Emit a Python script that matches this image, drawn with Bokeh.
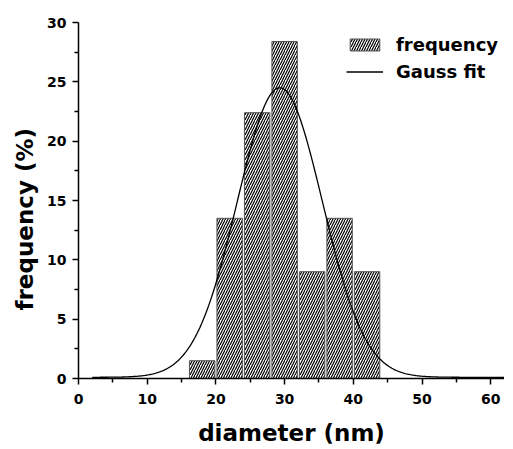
import numpy as np
from bokeh.plotting import figure
from bokeh.models import Range1d, Legend, LegendItem, FixedTicker, Title
from bokeh.embed import file_html
from bokeh.resources import INLINE

# histogram data (bin centres in nm, frequency in %)
bin_centers = [18, 22, 26, 30, 34, 38, 42]
frequency = [1.5, 13.5, 22.4, 28.4, 9.0, 13.5, 9.0]
bin_width = 3.7

# Gauss fit parameters
gauss_y0 = 0.1
gauss_xc = 29.3
gauss_w = 6.2
gauss_A = 24.4
curve_start = 2.0
curve_end = 62.0

x_ticks = [0, 10, 20, 30, 40, 50, 60]
x_minor = [5, 15, 25, 35, 45, 55]
y_ticks = [0, 5, 10, 15, 20, 25, 30]
y_minor = [2.5, 7.5, 12.5, 17.5, 22.5, 27.5]

xs = np.linspace(curve_start, curve_end, 400)
ys = gauss_y0 + gauss_A * np.exp(-((xs - gauss_xc) ** 2) / (2 * gauss_w ** 2))

FONT = "DejaVu Sans"
B_LEFT, B_TOP, B_BOTTOM = 78, 22, 68
FW, FH = 426, 356

p = figure(frame_width=FW, frame_height=FH, output_backend="svg", toolbar_location=None,
           x_range=Range1d(0, 62), y_range=Range1d(0, 30),
           min_border_left=B_LEFT, min_border_right=0, min_border_top=B_TOP,
           min_border_bottom=B_BOTTOM)
p.outline_line_color = None
p.grid.visible = False
p.background_fill_color = "white"

bars = p.vbar(x=bin_centers, top=frequency, width=bin_width, bottom=0,
              fill_color="white", line_color="#555555", line_width=1,
              hatch_pattern="/", hatch_color="black", hatch_scale=5, hatch_weight=1.2)
line = p.line(xs, ys, line_color="black", line_width=1.3)

for ax in (p.xaxis[0], p.yaxis[0]):
    ax.axis_line_width = 1.5
    ax.axis_line_color = "black"
    ax.major_tick_line_width = 1.5
    ax.minor_tick_line_width = 1.5
    ax.major_tick_out = 6
    ax.major_tick_in = 0
    ax.minor_tick_out = 4
    ax.minor_tick_in = 0
    ax.major_label_text_font = FONT
    ax.major_label_text_font_style = "bold"
    ax.major_label_text_font_size = "14px"
    ax.major_label_text_color = "black"
    ax.axis_label_text_font = FONT
    ax.axis_label_text_font_style = "bold"
    ax.axis_label_text_font_size = "23px"
    ax.axis_label_text_color = "black"

p.xaxis.ticker = FixedTicker(ticks=x_ticks, minor_ticks=x_minor)
p.yaxis.ticker = FixedTicker(ticks=y_ticks, minor_ticks=y_minor)
p.xaxis.axis_label = "diameter (nm)"
p.xaxis.major_label_standoff = 9
p.yaxis.major_label_standoff = 6
p.xaxis.axis_label_standoff = 13

# y axis title, placed slightly below the frame centre as in the original
ytitle = Title(text="frequency (%)", align="left", offset=68,
               text_font=FONT, text_font_style="bold", text_font_size="23px",
               text_color="black", standoff=14)
p.add_layout(ytitle, "left")

legend = Legend(items=[LegendItem(label="frequency", renderers=[bars]),
                       LegendItem(label="Gauss fit", renderers=[line])],
                location=(268, 296))
legend.border_line_color = None
legend.background_fill_alpha = 0
legend.glyph_width = 37
legend.glyph_height = 15
legend.label_text_font = FONT
legend.label_text_font_style = "bold"
legend.label_text_font_size = "18px"
legend.label_text_color = "black"
legend.label_standoff = 13
legend.spacing = 6
legend.padding = 4
p.add_layout(legend)

open("out.html", "w").write(file_html(p, INLINE))
